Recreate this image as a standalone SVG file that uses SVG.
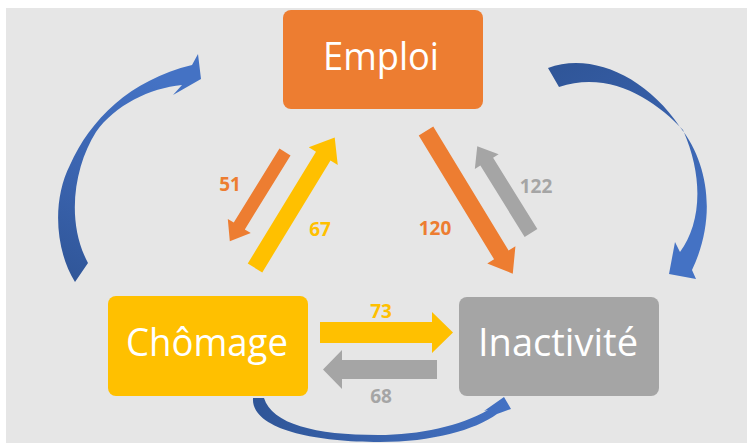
<svg xmlns="http://www.w3.org/2000/svg" width="747" height="443" viewBox="0 0 747 443">
<defs>
<style>
.box-label{font-family:"Open Sans","Liberation Sans",sans-serif;font-size:38px;fill:#ffffff;text-anchor:middle}
.num{font-family:"Open Sans","Liberation Sans",sans-serif;font-size:19px;font-weight:700;text-anchor:middle}
</style>
<linearGradient id="gLeft" x1="0" y1="1" x2="0.3" y2="0">
<stop offset="0" stop-color="#2f5597"/><stop offset="0.45" stop-color="#3a63ae"/><stop offset="1" stop-color="#4472c4"/>
</linearGradient>
<linearGradient id="gRight" x1="0" y1="0" x2="0.5" y2="1">
<stop offset="0" stop-color="#2f5597"/><stop offset="0.45" stop-color="#365ea7"/><stop offset="1" stop-color="#4472c4"/>
</linearGradient>
<linearGradient id="gBottom" x1="0" y1="0" x2="1" y2="0">
<stop offset="0" stop-color="#2f5597"/><stop offset="1" stop-color="#4472c4"/>
</linearGradient>
</defs>
<rect x="0" y="0" width="747" height="443" fill="#ffffff"/>
<rect x="6" y="8" width="741" height="435" fill="#e6e6e6"/>

<g id="connectors">
<path fill="url(#gLeft)" d="M75,282 C55,250 52,200 70,165 C90,120 130,80 192,65 L198,54 L201,79 L173,95 L182,85 C150,88 115,105 96,132 C75,165 65,220 88,263 Z"/>
<path fill="url(#gRight)" d="M548,68 C590,52 645,75 680,127 C710,165 716,220 692,270 L696,279 L669,274 L675,242 L680,252 C700,225 705,180 683,130 C655,100 610,70 559,87 Z"/>
<path fill="url(#gBottom)" d="M253,398 C251,428 310,442 380,442 C432,442 475,430 497,414 L511,409 L504,397 L484,411 L488,410 C460,426 420,435 378,435 C315,435 272,424 264,398 Z"/>
<g transform="translate(285,152) rotate(121.7)">
<polygon fill="#ed7d31" points="0,-6.5 87,-6.5 87,-13.5 105,0 87,13.5 87,6.5 0,6.5"/>
</g>
<g transform="translate(255,268) rotate(-58.6)">
<polygon fill="#ffc000" points="0,-8.5 131,-8.5 131,-17 153,0 131,17 131,8.5 0,8.5"/>
</g>
<g transform="translate(426,131) rotate(58.7)">
<polygon fill="#ed7d31" points="0,-8.5 145,-8.5 145,-16.5 167,0 145,16.5 145,8.5 0,8.5"/>
</g>
<g transform="translate(531,233) rotate(-121.8)">
<polygon fill="#a5a5a5" points="0,-7.5 84,-7.5 84,-14 102,0 84,14 84,7.5 0,7.5"/>
</g>
<polygon fill="#ffc000" points="320,322 432,322 432,312 453,332.5 432,353 432,343 320,343"/>
<polygon fill="#a5a5a5" points="437,360 342,360 342,350 323,369.5 342,389 342,379 437,379"/>
<text class="num" x="230" y="191" fill="#ed7d31">51</text>
<text class="num" x="320" y="236" fill="#ffc000">67</text>
<text class="num" x="435" y="235" fill="#ed7d31">120</text>
<text class="num" x="536" y="193" fill="#a5a5a5">122</text>
<text class="num" x="381" y="318" fill="#ffc000">73</text>
<text class="num" x="381" y="403" fill="#a5a5a5">68</text>
</g>

<g id="emploi">
<rect x="283" y="10" width="200" height="99" rx="8" fill="#ed7d31"/>
<text class="box-label" x="381" y="70" textLength="116" lengthAdjust="spacingAndGlyphs">Emploi</text>
</g>
<g id="chomage">
<rect x="108" y="296" width="200" height="100" rx="8" fill="#ffc000"/>
<text class="box-label" x="207" y="356" textLength="162" lengthAdjust="spacingAndGlyphs">Chômage</text>
</g>
<g id="inactivite">
<rect x="459" y="297" width="200" height="99" rx="8" fill="#a5a5a5"/>
<text class="box-label" x="558" y="356" textLength="160" lengthAdjust="spacingAndGlyphs">Inactivité</text>
</g>
</svg>
